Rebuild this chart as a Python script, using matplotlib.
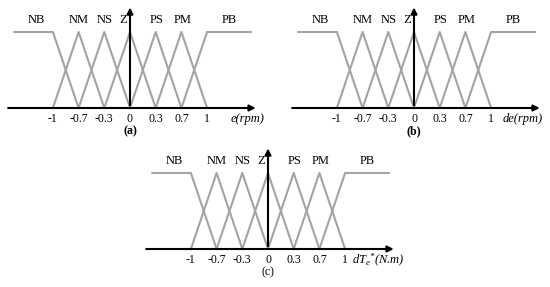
import matplotlib.pyplot as plt

plt.rcParams['font.family'] = ['Liberation Serif', 'DejaVu Serif']
plt.rcParams['mathtext.fontset'] = 'custom'
plt.rcParams['mathtext.it'] = 'Liberation Serif:italic'
plt.rcParams['mathtext.rm'] = 'Liberation Serif:italic'

# fuzzy sets, equally spaced centres
set_names = ['NB', 'NM', 'NS', 'Z', 'PS', 'PM', 'PB']
centres = [-3, -2, -1, 0, 1, 2, 3]
tick_labels = ['-1', '-0.7', '-0.3', '0', '0.3', '0.7', '1']
name_x = [-3.66, -2.0, -1.0, -0.25, 1.05, 2.05, 3.85]

# panels: (origin px x, origin px y, axis label, label x, caption, caption bold)
panels = [
    (130, 108, 'e(rpm)', 3.9, '(a)', 'bold'),
    (414, 108, 'de(rpm)', 3.45, '(b)', 'bold'),
    (268, 249, r'$dT_e{}^{*}$(N.m)', 3.25, '(c)', 'normal'),
]

W, H = 550, 287
dx, dy = 25.7, 76.0   # px per unit
gray = '#a3a3a3'

fig = plt.figure(figsize=(W / 100, H / 100), dpi=100)

for ox, oy, xlab, xlab_x, cap, capw in panels:
    # axes box around the origin, in px
    left, right = ox - 135, ox + 140
    top, bottom = oy - 108, oy + 36
    ax = fig.add_axes([left / W, 1 - bottom / H, (right - left) / W, (bottom - top) / H])
    ax.set_xlim((left - ox) / dx, (right - ox) / dx)
    ax.set_ylim((oy - bottom) / dy, (oy - top) / dy)
    ax.axis('off')

    # membership functions
    ax.plot([-4.5, centres[0], centres[1]], [1, 1, 0], color=gray, lw=1.5)
    for c in centres[1:-1]:
        ax.plot([c - 1, c, c + 1], [0, 1, 0], color=gray, lw=1.5)
    ax.plot([centres[-2], centres[-1], 4.7], [0, 1, 1], color=gray, lw=1.5)

    # axes with arrows
    ax.annotate('', xy=(5.0, 0), xytext=(-4.85, 0),
                arrowprops=dict(arrowstyle='-|>', color='black', lw=1.5, mutation_scale=9))
    ax.annotate('', xy=(0, 1.36), xytext=(0, 0),
                arrowprops=dict(arrowstyle='-|>', color='black', lw=1.5, mutation_scale=9))

    for n, x in zip(set_names, name_x):
        ax.text(x, 1.16, n, ha='center', va='center', fontsize=9)
    for t, c in zip(tick_labels, centres):
        ax.text(c, -0.15, t, ha='center', va='center', fontsize=8.5)
    ax.text(xlab_x, -0.15, xlab, ha='left', va='center', fontsize=9, fontstyle='italic')
    ax.text(0, -0.31, cap, ha='center', va='center', fontsize=8.5, fontweight=capw)

fig.savefig('out.png', dpi=100)
